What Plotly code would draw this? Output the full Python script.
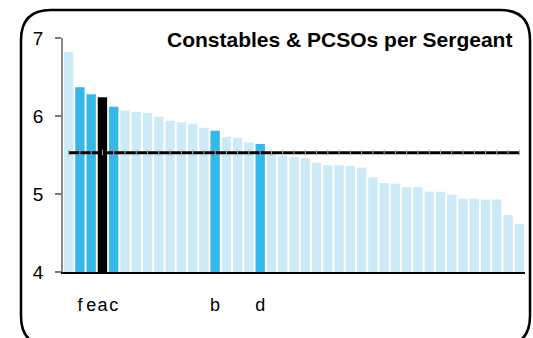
import plotly.graph_objects as go

# Constables & PCSOs per sergeant, forces ranked high to low
ratios = [6.82, 6.37, 6.28, 6.24, 6.12, 6.07, 6.05, 6.04, 5.99, 5.94,
          5.92, 5.90, 5.85, 5.81, 5.73, 5.72, 5.66, 5.64, 5.51, 5.49,
          5.475, 5.46, 5.40, 5.37, 5.37, 5.36, 5.34, 5.21, 5.14, 5.13,
          5.09, 5.09, 5.03, 5.03, 4.99, 4.94, 4.94, 4.93, 4.93, 4.73, 4.62]
national_average = 5.53

# Labelled forces: position in ranking -> letter
labelled_pos = [1, 2, 3, 4, 13, 17]
labelled_txt = ["f", "e", "a", "c", "b", "d"]
focus_pos = 3  # force "a"

LIGHT = "#cdebf7"
MID = "#34b8e8"

positions = list(range(len(ratios)))
colors = []
for i in positions:
    if i == focus_pos:
        colors.append("#000000")
    elif i in labelled_pos:
        colors.append(MID)
    else:
        colors.append(LIGHT)

fig = go.Figure()
fig.add_trace(go.Bar(x=positions, y=ratios, marker=dict(color=colors, line=dict(width=0)),
                     hoverinfo="skip"))
fig.add_trace(go.Scatter(x=positions, y=[national_average] * len(positions), mode="lines+markers",
                         line=dict(color="#000000", width=3),
                         marker=dict(symbol="line-ns", size=4, line=dict(color="#aaaaaa", width=1)),
                         hoverinfo="skip"))

W, H = 533, 338
ML, MR, MT, MB = 63, 8, 38, 66
pw, ph = W - ML - MR, H - MT - MB


def px_x(p):
    return (p - ML) / pw


def px_y(p):
    return (H - MB - p) / ph


# rounded frame around the chart
x0, x1, y0, y1, r = 21, 530, 10, 346, 30
path = (f"M {px_x(x0 + r)},{px_y(y0)} L {px_x(x1 - r)},{px_y(y0)} "
        f"Q {px_x(x1)},{px_y(y0)} {px_x(x1)},{px_y(y0 + r)} "
        f"L {px_x(x1)},{px_y(y1 - r)} Q {px_x(x1)},{px_y(y1)} {px_x(x1 - r)},{px_y(y1)} "
        f"L {px_x(x0 + r)},{px_y(y1)} Q {px_x(x0)},{px_y(y1)} {px_x(x0)},{px_y(y1 - r)} "
        f"L {px_x(x0)},{px_y(y0 + r)} Q {px_x(x0)},{px_y(y0)} {px_x(x0 + r)},{px_y(y0)} Z")

fig.update_layout(
    width=W, height=H,
    margin=dict(l=ML, r=MR, t=MT, b=MB),
    paper_bgcolor="white", plot_bgcolor="white",
    showlegend=False,
    bargap=0.17,
    font=dict(family="Arial, Liberation Sans, sans-serif", color="#000000"),
    shapes=[dict(type="path", xref="paper", yref="paper", path=path,
                 line=dict(color="#000000", width=2.5), layer="above")],
    annotations=[dict(text="<b>Constables & PCSOs per Sergeant</b>", xref="paper", yref="paper",
                      x=px_x(514), y=px_y(40), xanchor="right", yanchor="middle",
                      showarrow=False, font=dict(size=21, color="#000000"))],
)
fig.update_xaxes(range=[-0.5, len(ratios) - 0.5], tickmode="array",
                 tickvals=labelled_pos, ticktext=labelled_txt, ticks="", tickangle=0,
                 ticklabelstandoff=16, tickfont=dict(size=18),
                 showline=True, linecolor="#000000", linewidth=1.5,
                 showgrid=False, zeroline=False)
fig.update_yaxes(range=[4, 7], tickvals=[4, 5, 6, 7], ticks="outside", ticklen=6,
                 tickcolor="#777777", tickwidth=1.5, ticklabelstandoff=8,
                 tickfont=dict(size=19),
                 showline=True, linecolor="#888888", linewidth=1.5,
                 showgrid=False, zeroline=False)

fig.write_html("out.html")
